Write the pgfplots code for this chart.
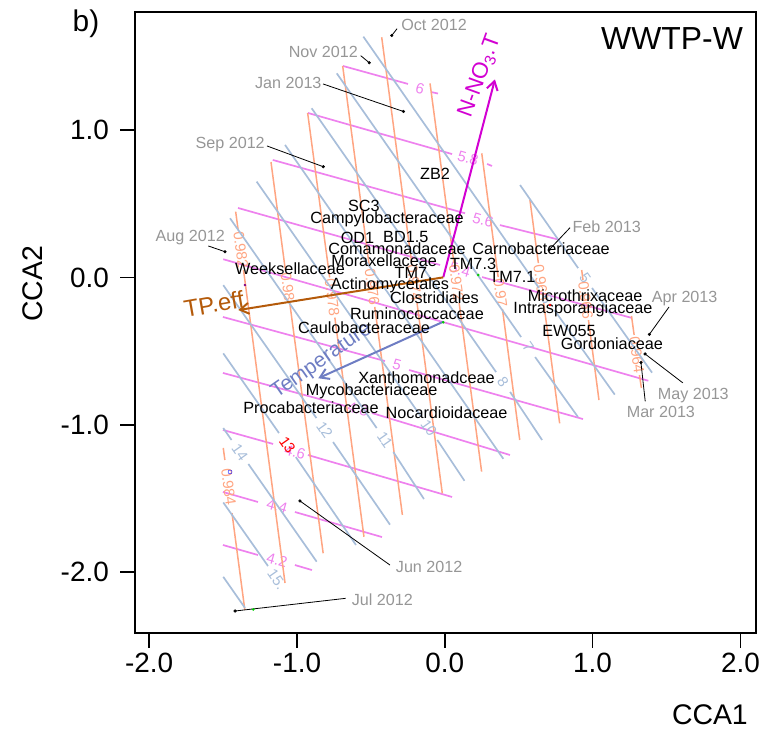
\documentclass[border=0pt]{standalone}
\usepackage{fontspec}
\setmainfont{Liberation Sans}
\usepackage{pgfplots}
\pgfplotsset{compat=1.18}
\usetikzlibrary{arrows.meta}
\definecolor{cpink}{RGB}{238,130,238}
\definecolor{corange}{RGB}{255,165,130}
\definecolor{cblue}{RGB}{168,190,218}
\definecolor{cmag}{RGB}{210,0,210}
\definecolor{cbrown}{RGB}{180,90,10}
\definecolor{cslate}{RGB}{110,125,195}
\definecolor{cgrey}{RGB}{150,150,150}
\newcommand\fs[1]{\fontsize{#1}{#1}\selectfont}
\pgfplotsset{
  pk/.style={cpink, line width=1.7bp},
  og/.style={corange, line width=1.5bp},
  bl/.style={cblue, line width=1.7bp},
  lead/.style={black, line width=0.8bp},
}
\tikzset{
  pkl/.style={text=cpink, font=\fs{15}, inner sep=0pt, rotate=-16},
  ogl/.style={text=corange, font=\fs{15}, inner sep=0pt, rotate=-82.4},
  bll/.style={text=cblue, font=\fs{15}, inner sep=0pt, rotate=-55},
  sp/.style={font=\fs{16.3}, inner sep=0pt},
  dt/.style={font=\fs{16.2}, text=cgrey, inner sep=0pt},
}
\begin{document}
\begin{tikzpicture}
\begin{axis}[
  x=147.8bp, y=147.3bp,
  xmin=-2.096, xmax=2.106, ymin=-2.413, ymax=1.802,
  axis line style={line width=1.6bp},
  tick style={black, line width=1.6bp},
  tick align=outside, major tick length=15bp,
  xtick={-2,-1,0,1,2}, xticklabels={-2.0,-1.0,0.0,1.0,2.0},
  ytick={-2,-1,0,1}, yticklabels={-2.0,-1.0,0.0,1.0},
  xtick pos=left, ytick pos=left,
  ticklabel style={font=\fs{28}, inner sep=0pt},
  xticklabel style={yshift=-5bp},
  yticklabel style={xshift=-11bp},
  clip=false,
]
\coordinate (bbSW) at (axis cs:-3.0095,-3.0720);
\coordinate (bbNE) at (axis cs:2.1258,1.8839);

% ---- N-NO3.T contours (pink)
\addplot[pk] coordinates {(-0.689,1.436) (-0.249,1.314)};
\addplot[pk] coordinates {(-0.093,1.259) (-0.046,1.249)};
\addplot[pk] coordinates {(-0.926,1.117) (0.049,0.838)};
\addplot[pk] coordinates {(0.286,0.771) (0.319,0.757)};
\addplot[pk] coordinates {(-1.164,0.798) (0.137,0.436)};
\addplot[pk] coordinates {(0.373,0.356) (0.779,0.255)};
\addplot[pk] coordinates {(-1.399,0.472) (-0.032,0.085)};
\addplot[pk] coordinates {(0.252,0.003) (1.267,-0.275)};
\addplot[pk] coordinates {(-1.499,0.124) (1.377,-0.701)};
\addplot[pk] coordinates {(-1.501,-0.268) (-0.405,-0.567)};
\addplot[pk] coordinates {(-0.242,-0.628) (0.935,-0.961)};
\addplot[pk] coordinates {(-1.501,-0.648) (-0.675,-0.872)};
\addplot[pk] coordinates {(-0.493,-0.920) (0.441,-1.205)};
\addplot[pk] coordinates {(-1.501,-1.035) (-1.162,-1.130)};
\addplot[pk] coordinates {(-0.926,-1.205) (0.049,-1.490)};
\addplot[pk] coordinates {(-1.501,-1.456) (-1.264,-1.524)};
\addplot[pk] coordinates {(-1.014,-1.592) (-0.425,-1.762)};
\addplot[pk] coordinates {(-1.501,-1.816) (-1.264,-1.884)};
\addplot[pk] coordinates {(-1.014,-1.952) (-0.899,-1.986)};
\node[pkl] at (axis cs:-0.168,1.280) {6};
\node[pkl] at (axis cs:0.157,0.811) {5.8};
\node[pkl] at (axis cs:0.258,0.390) {5.6};
\node[pkl] at (axis cs:0.103,0.051) {5.4};
\node[pkl] at (axis cs:-0.323,-0.594) {5};
\node[pkl] at (axis cs:-0.587,-0.893) {4.8};
\node[pkl] at (axis cs:-1.014,-1.185) {4.6};
\node[pkl] at (axis cs:-1.135,-1.551) {4.4};
\node[pkl] at (axis cs:-1.135,-1.918) {4.2};

% ---- TP.eff contours (salmon)
\addplot[og] coordinates {(-1.499,-1.157) (-1.488,-1.239)};
\addplot[og] coordinates {(-1.440,-1.599) (-1.353,-2.257)};
\addplot[og] coordinates {(-1.415,0.447) (-1.398,0.322)};
\addplot[og] coordinates {(-1.362,0.051) (-1.081,-2.074)};
\addplot[og] coordinates {(-1.176,0.784) (-1.078,0.044)};
\addplot[og] coordinates {(-1.049,-0.173) (-0.823,-1.872)};
\addplot[og] coordinates {(-0.928,1.117) (-0.779,0.000)};
\addplot[og] coordinates {(-0.744,-0.272) (-0.547,-1.760)};
\addplot[og] coordinates {(-0.691,1.436) (-0.510,0.071)};
\addplot[og] coordinates {(-0.474,-0.200) (-0.287,-1.612)};
\addplot[og] coordinates {(-0.427,1.631) (-0.224,0.098)};
\addplot[og] coordinates {(-0.188,-0.173) (-0.017,-1.465)};
\addplot[og] coordinates {(-0.100,1.318) (0.062,0.098)};
\addplot[og] coordinates {(0.097,-0.173) (0.249,-1.318)};
\addplot[og] coordinates {(0.250,0.843) (0.361,0.003)};
\addplot[og] coordinates {(0.390,-0.214) (0.507,-1.103)};
\addplot[og] coordinates {(0.576,0.526) (0.633,0.098)};
\addplot[og] coordinates {(0.669,-0.173) (0.777,-0.990)};
\addplot[og] coordinates {(0.926,0.051) (0.935,-0.017)};
\addplot[og] coordinates {(0.972,-0.289) (1.043,-0.832)};
\addplot[og] coordinates {(1.263,-0.261) (1.281,-0.390)};
\addplot[og] coordinates {(1.317,-0.662) (1.330,-0.750)};
\node[ogl] at (axis cs:-1.463,-1.422) {0.984};
\node[ogl] at (axis cs:-1.380,0.187) {0.982};
\node[ogl] at (axis cs:-1.063,-0.064) {0.98};
\node[ogl] at (axis cs:-0.762,-0.136) {0.978};
\node[ogl] at (axis cs:-0.492,-0.064) {0.976};
\node[ogl] at (axis cs:-0.206,-0.037) {0.974};
\node[ogl] at (axis cs:0.079,-0.037) {0.972};
\node[ogl] at (axis cs:0.376,-0.105) {0.97};
\node[ogl] at (axis cs:0.651,-0.037) {0.968};
\node[ogl] at (axis cs:0.953,-0.153) {0.966};
\node[ogl] at (axis cs:1.299,-0.526) {0.964};

% ---- Temperature contours (blue)
\addplot[bl] coordinates {(0.509,0.628) (0.902,0.064)};
\addplot[bl] coordinates {(0.996,-0.071) (1.402,-0.646)};
\addplot[bl] coordinates {(-0.551,1.635) (0.637,-0.071)};
\addplot[bl] coordinates {(0.741,-0.221) (1.150,-0.795)};
\addplot[bl] coordinates {(-0.731,1.386) (0.516,-0.404)};
\addplot[bl] coordinates {(0.611,-0.540) (0.901,-0.947)};
\addplot[bl] coordinates {(-0.901,1.149) (0.347,-0.642)};
\addplot[bl] coordinates {(0.442,-0.777) (0.658,-1.103)};
\addplot[bl] coordinates {(-1.081,0.900) (0.396,-1.231)};
\addplot[bl] coordinates {(-1.273,0.651) (-0.164,-0.940)};
\addplot[bl] coordinates {(-0.051,-1.103) (0.133,-1.380)};
\addplot[bl] coordinates {(-1.453,0.402) (-0.461,-1.022)};
\addplot[bl] coordinates {(-0.348,-1.185) (-0.141,-1.504)};
\addplot[bl] coordinates {(-1.499,-0.052) (-0.869,-0.954)};
\addplot[bl] coordinates {(-0.756,-1.117) (-0.371,-1.678)};
\addplot[bl] coordinates {(-1.499,-0.515) (-1.122,-1.056)};
\addplot[bl] coordinates {(-1.008,-1.219) (-0.601,-1.816)};
\addplot[bl] coordinates {(-1.499,-1.022) (-1.443,-1.103)};
\addplot[bl] coordinates {(-1.329,-1.266) (-0.867,-1.929)};
\addplot[bl] coordinates {(-1.499,-1.527) (-1.196,-1.959)};
\addplot[bl] coordinates {(-1.499,-2.032) (-1.352,-2.243)};
\node[bll] at (axis cs:0.949,-0.003) {5};
\node[bll] at (axis cs:0.689,-0.146) {6};
\node[bll] at (axis cs:0.564,-0.472) {7};
\node[bll] at (axis cs:0.394,-0.709) {8};
\node[bll] at (axis cs:-0.108,-1.022) {10};
\node[bll] at (axis cs:-0.405,-1.103) {11};
\node[bll] at (axis cs:-0.813,-1.035) {12};
\node[bll, text=red] at (axis cs:-1.065,-1.137) {13};
\node[bll] at (axis cs:-1.386,-1.185) {14};
\node[bll] at (axis cs:-1.137,-2.047) {15.};

% ---- small coloured points
\addplot[only marks, mark=*, mark size=1.1bp, green!80!black] coordinates {(-0.010,-0.304) (0.227,0.017) (-1.296,-2.253)};
\addplot[only marks, mark=*, mark size=1.1bp, red] coordinates {(0.712,-0.187)};
\addplot[only marks, mark=o, mark size=2bp, blue] coordinates {(-1.453,-1.320)};
\addplot[only marks, mark=*, mark size=1bp, violet] coordinates {(-1.352,-0.051)};

% ---- site leader lines and points
\addplot[lead] coordinates {(-0.323,1.689) (-0.359,1.643)};
\addplot[lead] coordinates {(-0.569,1.506) (-0.511,1.458)};
\addplot[lead] coordinates {(-0.824,1.314) (-0.280,1.127)};
\addplot[lead] coordinates {(-1.203,0.893) (-0.822,0.752)};
\addplot[lead] coordinates {(-1.600,0.214) (-1.487,0.175)};
\addplot[lead] coordinates {(0.847,0.338) (0.705,0.187)};
\addplot[lead] coordinates {(1.517,-0.200) (1.384,-0.386)};
\addplot[lead] coordinates {(1.610,-0.715) (1.355,-0.519)};
\addplot[lead] coordinates {(1.356,-0.841) (1.327,-0.577)};
\addplot[lead] coordinates {(-0.371,-1.952) (-0.980,-1.517)};
\addplot[lead] coordinates {(-0.671,-2.178) (-1.419,-2.264)};
\addplot[only marks, mark=*, mark size=1.4bp, black] coordinates {
 (-0.359,1.643) (-0.511,1.458) (-0.280,1.127) (-0.822,0.752) (-1.487,0.175)
 (0.705,0.187) (1.384,-0.386) (1.355,-0.519) (1.327,-0.577) (-0.980,-1.517) (-1.419,-2.264)};

% ---- arrows
\addplot[cmag, line width=2bp, -{Straight Barb[length=8.7bp,width=11bp]}] coordinates {(-0.010,0.003) (0.339,1.345)};
\addplot[cbrown, line width=2bp, -{Straight Barb[length=8.7bp,width=11bp]}] coordinates {(-0.010,0.001) (-1.397,-0.221)};
\addplot[cslate, line width=2bp, -{Straight Barb[length=8.7bp,width=11bp]}] coordinates {(-0.010,-0.300) (-0.856,-0.684)};
\node[text=cmag, font=\fs{22.5}, rotate=70, inner sep=0pt] at (axis cs:0.238,1.368) {N-NO\textsubscript{3}.T};
\node[text=cbrown, font=\fs{24}, rotate=10, inner sep=0pt] at (axis cs:-1.562,-0.180) {TP.eff};
\node[text=cslate, font=\fs{21}, rotate=35, inner sep=0pt] at (axis cs:-0.831,-0.567) {Temperature};

% ---- species labels
\node[sp] at (axis cs:-0.547,0.485) {SC3};
\node[sp] at (axis cs:-0.391,0.397) {Campylobacteraceae};
\node[sp] at (axis cs:-0.591,0.272) {OD1};
\node[sp] at (axis cs:-0.264,0.272) {BD1.5};
\node[sp] at (axis cs:-0.323,0.193) {Comamonadaceae};
\node[sp] at (axis cs:0.651,0.193) {Carnobacteriaceae};
\node[sp] at (axis cs:-0.411,0.112) {Moraxellaceae};
\node[sp] at (axis cs:-0.229,0.031) {TM7};
\node[sp] at (axis cs:0.191,0.095) {TM7.3};
\node[sp] at (axis cs:0.458,0.005) {TM7.1};
\node[sp] at (axis cs:-1.047,0.058) {Weeksellaceae};
\node[sp] at (axis cs:-0.371,-0.051) {Actinomycetales};
\node[sp] at (axis cs:-0.070,-0.136) {Clostridiales};
\node[sp] at (axis cs:-0.188,-0.248) {Ruminococcaceae};
\node[sp] at (axis cs:-0.547,-0.339) {Caulobacteraceae};
\node[sp] at (axis cs:0.949,-0.126) {Microthrixaceae};
\node[sp] at (axis cs:0.935,-0.214) {Intrasporangiaceae};
\node[sp] at (axis cs:0.840,-0.363) {EW055};
\node[sp] at (axis cs:1.131,-0.451) {Gordoniaceae};
\node[sp] at (axis cs:-0.124,-0.679) {Xanthomonadceae};
\node[sp] at (axis cs:-0.495,-0.771) {Mycobacteriaceae};
\node[sp] at (axis cs:-0.905,-0.886) {Procabacteriaceae};
\node[sp] at (axis cs:0.012,-0.920) {Nocardioidaceae};
\node[sp] at (axis cs:-0.066,0.703) {ZB2};

% ---- site labels
\node[dt, anchor=west] at (axis cs:-0.296,1.714) {Oct 2012};
\node[dt, anchor=east] at (axis cs:-0.587,1.533) {Nov 2012};
\node[dt, anchor=east] at (axis cs:-0.833,1.318) {Jan 2013};
\node[dt, anchor=east] at (axis cs:-1.217,0.900) {Sep 2012};
\node[dt, anchor=east] at (axis cs:-1.487,0.270) {Aug 2012};
\node[dt, anchor=west] at (axis cs:0.863,0.345) {Feb 2013};
\node[dt, anchor=west] at (axis cs:1.400,-0.141) {Apr 2013};
\node[dt, anchor=west] at (axis cs:1.440,-0.801) {May 2013};
\node[dt, anchor=west] at (axis cs:1.230,-0.913) {Mar 2013};
\node[dt, anchor=west] at (axis cs:-0.332,-1.963) {Jun 2012};
\node[dt, anchor=west] at (axis cs:-0.630,-2.185) {Jul 2012};

% ---- titles and axis labels
\node[font=\fs{32}, anchor=east, inner sep=0pt] at (axis cs:2.018,1.619) {WWTP-W};
\node[font=\fs{30}, inner sep=0pt] at (axis cs:-2.428,1.721) {b)};
\node[font=\fs{28.5}, anchor=east, inner sep=0pt] at (axis cs:2.051,-2.970) {CCA1};
\node[font=\fs{28.5}, rotate=90, inner sep=0pt] at (axis cs:-2.786,-0.044) {CCA2};
\end{axis}
\pgfresetboundingbox
\path[use as bounding box] (bbSW) rectangle (bbNE);
\end{tikzpicture}
\end{document}
